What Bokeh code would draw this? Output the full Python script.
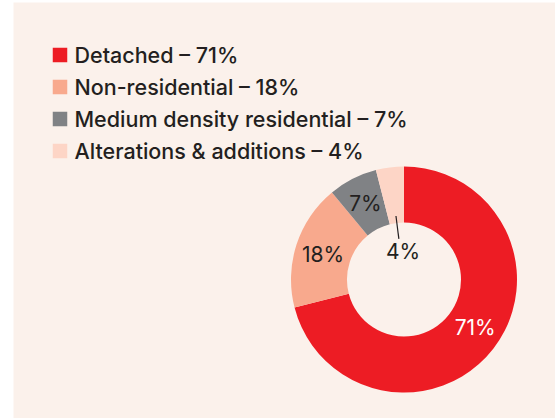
import math
from bokeh.plotting import figure
from bokeh.models import Range1d, ColumnDataSource
from bokeh.core.properties import value
from bokeh.embed import file_html
from bokeh.resources import INLINE

categories = ["Detached", "Non-residential", "Medium density residential", "Alterations & additions"]
shares = [71, 18, 7, 4]
colors = ["#ED1C24", "#F8A98D", "#808285", "#FDD5C6"]
label_colors = ["white", "#231F20", "#231F20", "#231F20"]

BG = "#FBF1EB"
TXT = "#231F20"
FONT = "Inter"
LEG_FONT = "Inter Medium, Inter"

W, H = 555, 418
p = figure(width=W, height=H, x_range=Range1d(13, 555), y_range=Range1d(0, 416),
           output_backend="svg", toolbar_location=None,
           x_axis_location=None, y_axis_location=None,
           min_border_left=13, min_border_right=0, min_border_top=2, min_border_bottom=0,
           border_fill_color="white", background_fill_color=BG, outline_line_color=None)
p.grid.visible = False

# donut geometry (y measured upward: y = 418 - screen_y)
cx, cy = 403.5, 139.0
r_in, r_out = 57, 113

total = float(sum(shares))
cum = 0.0
starts, ends, mids = [], [], []
for s in shares:
    a0 = math.pi / 2 - 2 * math.pi * cum / total
    cum += s
    a1 = math.pi / 2 - 2 * math.pi * cum / total
    starts.append(a0)
    ends.append(a1)
    mids.append((a0 + a1) / 2)

src = ColumnDataSource(dict(start=starts, end=ends, color=colors))
p.annular_wedge(x=cx, y=cy, inner_radius=r_in, outer_radius=r_out,
                start_angle="start", end_angle="end", direction="clock",
                fill_color="color", line_color=None, source=src)

# slice labels
r_mid = (r_in + r_out) / 2
nudge = [(4, 4.5), (0, -1), (0, 0)]
lx, ly, lt, lc = [], [], [], []
for i, (s, m) in enumerate(zip(shares, mids)):
    if i == len(shares) - 1:
        continue
    lx.append(cx + r_mid * math.cos(m) + nudge[i][0])
    ly.append(cy + r_mid * math.sin(m) + nudge[i][1])
    lt.append(f"{s}%")
    lc.append(label_colors[i])
p.text(x=lx, y=ly, text=lt, text_color=lc, text_font=value(FONT), text_font_size="21px",
       text_align="center", text_baseline="middle")

# small slice: label inside the hole with a leader line
m = mids[-1]
p.segment(x0=cx + 64 * math.cos(m), y0=cy + 64 * math.sin(m),
          x1=cx + 41 * math.cos(m), y1=cy + 41 * math.sin(m),
          line_color=TXT, line_width=1.2)
p.text(x=[cx - 1], y=[cy + 28.5], text=[f"{shares[-1]}%"], text_color=TXT,
       text_font=value(FONT), text_font_size="21px", text_align="center", text_baseline="middle")

# legend
row_top = 418 - 54.5
step = 32
sq_y = [row_top - i * step for i in range(len(categories))]
p.rect(x=[59.5] * len(categories), y=sq_y, width=14.5, height=14.5, fill_color=colors, line_color=None)
p.text(x=[74] * len(categories), y=sq_y,
       text=[f"{c} \u2013 {s}%" for c, s in zip(categories, shares)],
       text_color=TXT, text_font=value(LEG_FONT), text_font_size="21.5px",
       text_align="left", text_baseline="middle")

open("out.html", "w").write(file_html(p, INLINE))
